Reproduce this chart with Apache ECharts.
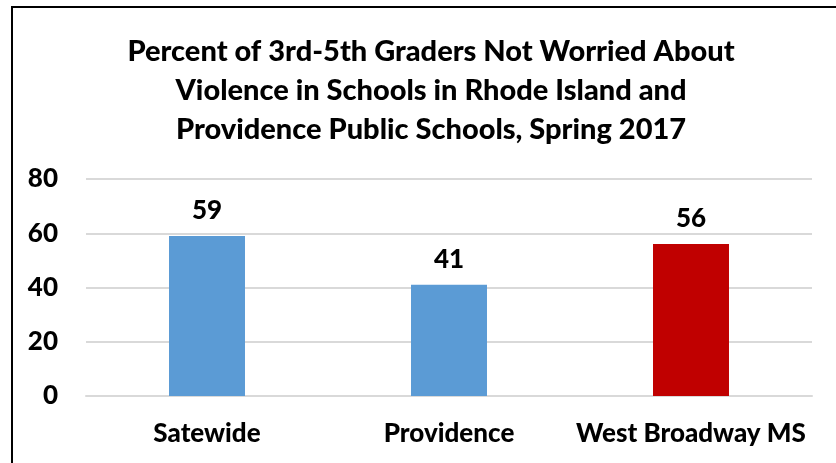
<!DOCTYPE html>
<html>
<head>
<meta charset="utf-8">
<script src="https://cdn.jsdelivr.net/npm/echarts@6/dist/echarts.min.js"></script>
<style>
html,body{margin:0;padding:0;background:#fff;}
#chart{width:836px;height:463px;}
</style>
</head>
<body>
<div id="chart"></div>
<script>
const titleText = 'Percent of 3rd-5th Graders Not Worried About\nViolence in Schools in Rhode Island and\nProvidence Public Schools, Spring 2017';
const categories = ['Satewide', 'Providence', 'West Broadway MS'];
const values = [59, 41, 56];
const barColors = ['#5B9BD5', '#5B9BD5', '#C00000'];
const yTicks = [0, 20, 40, 60, 80];

const FONT = 'Lato, "Open Sans", sans-serif';
const chart = echarts.init(document.getElementById('chart'), null, {renderer: 'canvas'});
chart.setOption({
  animation: false,
  backgroundColor: '#fff',
  graphic: [{
    type: 'rect',
    shape: {x: 12, y: 7, width: 900, height: 600},
    style: {fill: 'none', stroke: '#000', lineWidth: 2},
    silent: true,
    z: 100
  }],
  title: {
    text: titleText,
    left: 426,
    textAlign: 'center',
    top: 27,
    textStyle: {fontFamily: FONT, fontWeight: 900, fontSize: 29, lineHeight: 39, color: '#000'}
  },
  grid: {left: 86, right: 24, top: 179, bottom: 67, containLabel: false},
  xAxis: {
    type: 'category',
    data: categories,
    axisLine: {show: true, lineStyle: {color: '#D9D9D9', width: 2}},
    axisTick: {show: false},
    axisLabel: {interval: 0, fontFamily: FONT, fontWeight: 900, fontSize: 26, color: '#000', margin: 25}
  },
  yAxis: {
    type: 'value',
    min: yTicks[0],
    max: yTicks[yTicks.length - 1],
    interval: 20,
    axisLine: {show: false},
    axisTick: {show: false},
    splitLine: {lineStyle: {color: '#D9D9D9', width: 2}},
    axisLabel: {fontFamily: FONT, fontWeight: 900, fontSize: 26, color: '#000', margin: 28}
  },
  series: [{
    type: 'bar',
    data: values.map((v, i) => ({value: v, itemStyle: {color: barColors[i]}})),
    barWidth: '31.4%',
    label: {
      show: true,
      position: 'top',
      distance: 12,
      fontFamily: FONT, fontWeight: 900, fontSize: 26, color: '#000'
    }
  }]
});
</script>
</body>
</html>
